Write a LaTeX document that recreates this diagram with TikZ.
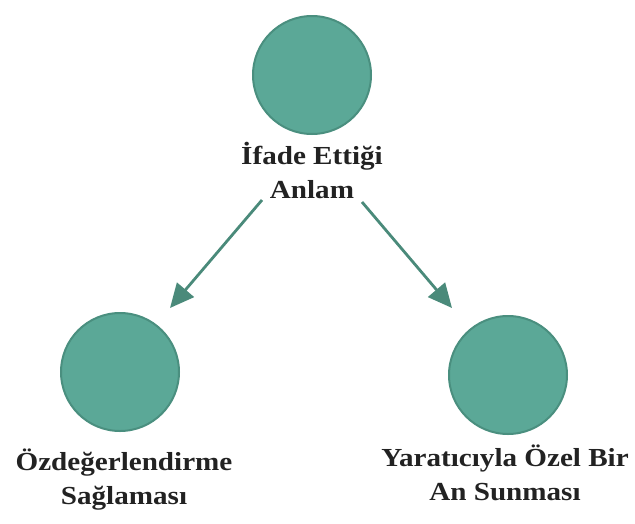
\documentclass[tikz,border=0pt]{standalone}
\usepackage{fontspec}
\setmainfont{Liberation Serif}
\newfontfamily\lblfont[FakeStretch=1.12]{Liberation Serif}
\usetikzlibrary{arrows.meta}
\definecolor{cfill}{HTML}{5BA897}
\definecolor{cedge}{HTML}{4A8F7F}
\definecolor{carrow}{HTML}{4A8A7A}
\definecolor{ctext}{HTML}{222222}
\begin{document}
\begin{tikzpicture}[x=1pt,y=-1pt,
  dot/.style={circle,fill=cfill,draw=cedge,line width=2pt,minimum size=118pt,inner sep=0pt},
  lbl/.style={font=\lblfont\bfseries\fontsize{26}{34}\selectfont,text=ctext,align=center,inner sep=0pt},
  conn/.style={draw=carrow,line width=2.8pt,-{Triangle[length=24pt,width=22pt]}}]
\useasboundingbox (0,0) rectangle (635,523);
\node[dot] (top) at (312,75) {};
\node[dot] (left) at (120,372) {};
\node[dot] (right) at (508,375) {};
\node[lbl] (ltop) at (312,170) {İfade Ettiği\\Anlam};
\node[lbl] (lleft) at (124,480) {Özdeğerlendirme\\Sağlaması};
\node[lbl] (lright) at (505,473) {Yaratıcıyla Özel Bir\\An Sunması};
\coordinate (s1) at (262,200);
\coordinate (e1) at (170,308);
\coordinate (s2) at (362,202);
\coordinate (e2) at (452,308);
\draw[conn] (s1) -- (e1);
\draw[conn] (s2) -- (e2);
\end{tikzpicture}
\end{document}
